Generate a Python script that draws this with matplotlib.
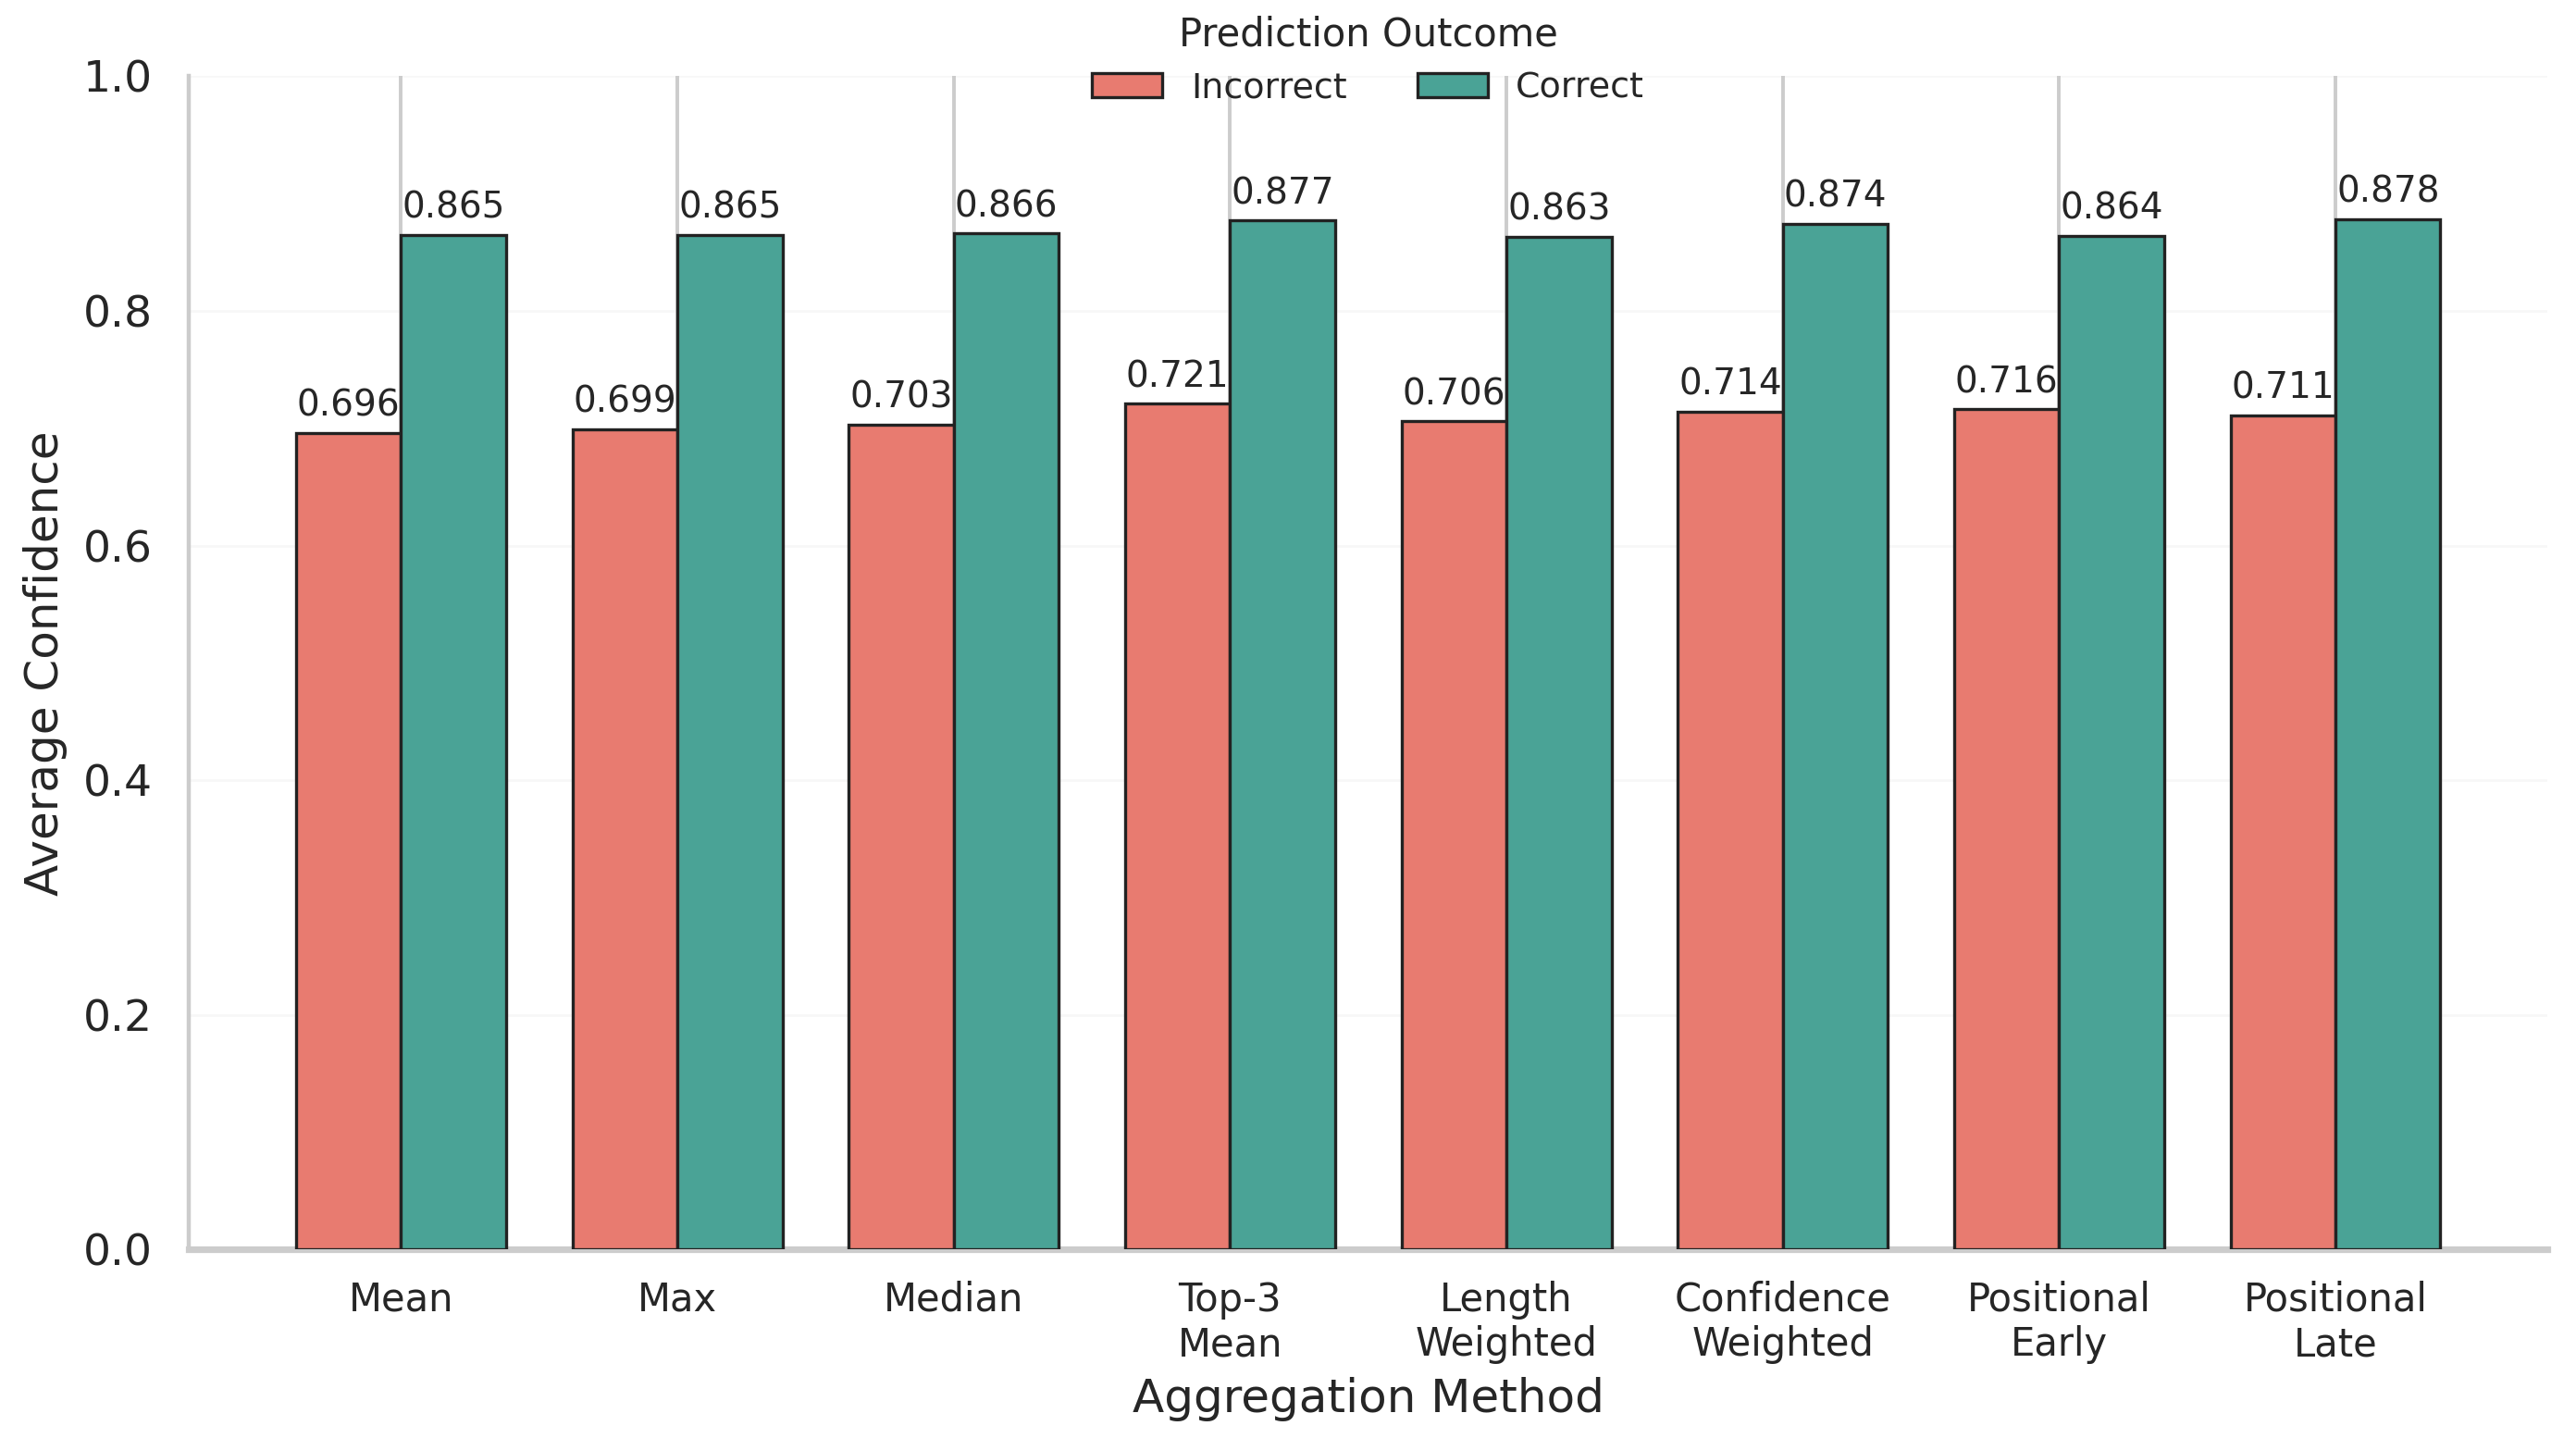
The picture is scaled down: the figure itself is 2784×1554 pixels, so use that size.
import numpy as np
import matplotlib
matplotlib.use("Agg")
import matplotlib.pyplot as plt

methods = ["Mean", "Max", "Median", "Top-3\nMean", "Length\nWeighted",
           "Confidence\nWeighted", "Positional\nEarly", "Positional\nLate"]
incorrect = [0.696, 0.699, 0.703, 0.721, 0.706, 0.714, 0.716, 0.711]
correct = [0.865, 0.865, 0.866, 0.877, 0.863, 0.874, 0.864, 0.878]
yticks = [0.0, 0.2, 0.4, 0.6, 0.8, 1.0]

col_inc = "#e87b70"
col_cor = "#4aa396"
txt = "#262626"

plt.rcParams["font.family"] = "DejaVu Sans"
fig = plt.figure(figsize=(13.92, 7.77), dpi=200)
ax = fig.add_axes([0.0733, 0.131, 0.9157, 0.816])

x = np.arange(len(methods))
w = 0.38
b1 = ax.bar(x - w / 2, incorrect, w, color=col_inc, edgecolor="#222222",
            linewidth=1.2, label="Incorrect", zorder=3)
b2 = ax.bar(x + w / 2, correct, w, color=col_cor, edgecolor="#222222",
            linewidth=1.2, label="Correct", zorder=3)

for bars, vals in [(b1, incorrect), (b2, correct)]:
    for r, v in zip(bars, vals):
        ax.text(r.get_x() + r.get_width() / 2, v + 0.008, f"{v:.3f}",
                ha="center", va="bottom", fontsize=14, color=txt, zorder=4)

ax.set_ylim(0, 1.0)
ax.set_yticks(yticks)
ax.set_xticks(x)
ax.set_xticklabels(methods, fontsize=15, color=txt)
ax.tick_params(axis="y", labelsize=17, colors=txt, length=0, pad=14)
ax.tick_params(axis="x", length=0, pad=12)
ax.set_ylabel("Average Confidence", fontsize=18, color=txt, labelpad=6)
ax.set_xlabel("Aggregation Method", fontsize=18, color=txt, labelpad=5)

ax.grid(axis="x", color="#cccccc", linewidth=1.4, zorder=0)
ax.grid(axis="y", color="#cccccc", linewidth=1.0, alpha=0.15, zorder=0)
ax.set_axisbelow(True)

for s in ["top", "right"]:
    ax.spines[s].set_visible(False)
ax.spines["left"].set_color("#cccccc")
ax.spines["left"].set_linewidth(1.6)
ax.spines["bottom"].set_color("#cccccc")
ax.spines["bottom"].set_linewidth(2.6)

leg = ax.legend(title="Prediction Outcome", loc="upper center",
                bbox_to_anchor=(0.5, 1.064), ncol=2, frameon=False,
                fontsize=13.7, title_fontsize=15, columnspacing=2.0,
                handlelength=2.0, borderaxespad=0)
for t in leg.get_texts():
    t.set_color(txt)
leg.get_title().set_color(txt)

fig.savefig("out.png", dpi=200)
